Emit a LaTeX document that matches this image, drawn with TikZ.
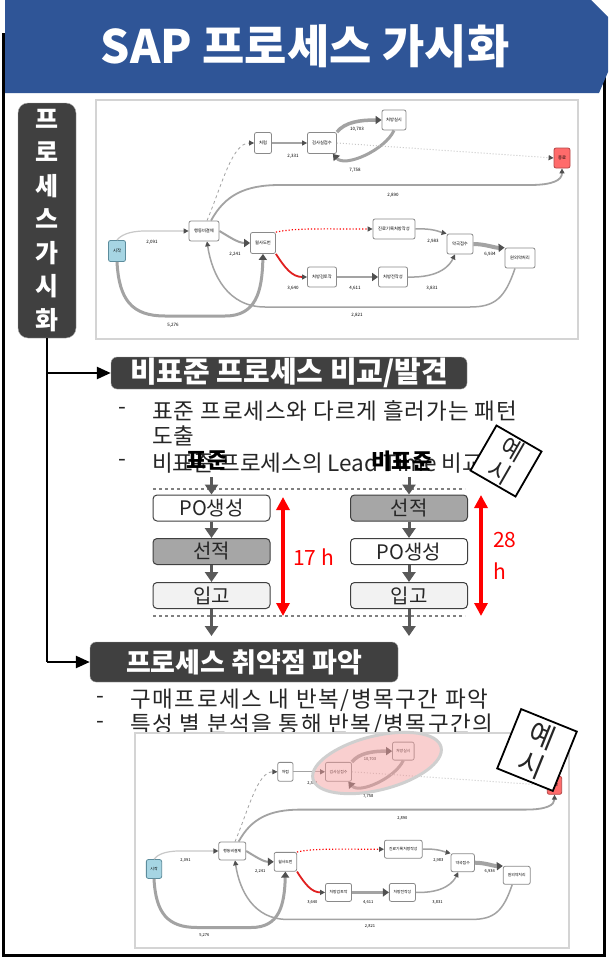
\documentclass[tikz,border=0pt]{standalone}
\usepackage{fontspec}
\setmainfont{Noto Sans CJK KR}
\usetikzlibrary{arrows.meta,shapes.geometric}
\definecolor{banner}{HTML}{2F5597}
\definecolor{darkbox}{HTML}{404040}
\definecolor{txt}{HTML}{262626}
\definecolor{framegray}{HTML}{D4D4D4}
\definecolor{edgegray}{HTML}{A3A3A3}
\definecolor{lightedge}{HTML}{C8C8C8}
\definecolor{tipgray}{HTML}{505050}
\definecolor{nodeedge}{HTML}{8A8A8A}
\definecolor{startblue}{HTML}{A6D5E3}
\definecolor{startedge}{HTML}{5C8C9C}
\definecolor{endred}{HTML}{FF6B6B}
\definecolor{endedge}{HTML}{B34747}
\definecolor{boxgray}{HTML}{A6A6A6}
\definecolor{boxlight}{HTML}{F2F2F2}
\definecolor{arrgray}{HTML}{595959}
\definecolor{hlpink}{HTML}{F4A0A0}
\definecolor{hlborder}{HTML}{CFCFCF}
\definecolor{redline}{HTML}{E02020}
\newcommand\fsz[1]{\fontsize{#1}{#1}\selectfont}

\newcommand\procmap[1]{%
 \draw[mframe] (96,100) rectangle (578,339);
 \node[mnode,fill=startblue,draw=startedge,minimum width=17pt,minimum height=21pt] (#1S) at (117,251) {시작};
 \node[mnode,minimum width=30pt,minimum height=20pt] (#1A) at (204,231) {행동비결제};
 \node[mnode,minimum width=25pt,minimum height=21pt] (#1B) at (263,243) {월사도번};
 \node[mnode,minimum width=17pt,minimum height=21pt] (#1C) at (263,143) {처럼};
 \node[mnode,minimum width=29pt,minimum height=21pt] (#1D) at (322,143) {검사실접수};
 \node[mnode,minimum width=24pt,minimum height=20pt] (#1E) at (394,120) {처방실시};
 \node[mnode,fill=endred,draw=endedge,minimum width=16pt,minimum height=20pt] (#1T) at (562,158) {종료};
 \node[mnode,minimum width=42pt,minimum height=20pt] (#1F) at (394,229) {진료기록처방작성};
 \node[mnode,minimum width=26pt,minimum height=20pt] (#1G) at (460,244) {약국접수};
 \node[mnode,minimum width=30pt,minimum height=20pt] (#1H) at (520,258) {원외약처리};
 \node[mnode,minimum width=29pt,minimum height=20pt] (#1I) at (322,277) {처방검토작};
 \node[mnode,minimum width=29pt,minimum height=20pt] (#1J) at (393,277) {처방전작성};
 \draw[medge,draw=lightedge,line width=1.2pt] (#1S.north) .. controls (120,236) and (128,231) .. (145,231) -- (#1A.west);
 \draw[medgeB,line width=3pt] (#1S.south) .. controls (119,300) and (132,316) .. (165,316) -- (225,316) .. controls (256,316) and (262,292) .. (#1B.south);
 \draw[medgeB,line width=2pt] (#1A.east) .. controls (228,236) and (238,243) .. (#1B.west);
 \draw[medge,dashed,line width=0.8pt] ([xshift=3pt]#1A.north) .. controls (222,185) and (232,143) .. (#1C.west);
 \draw[medge,line width=1.8pt] ([xshift=7pt]#1A.north) .. controls (225,195) and (245,185) .. (280,185) -- (530,185) .. controls (553,185) and (562,180) .. (#1T.south);
 \draw[medge,line width=1.2pt] (#1C.east) -- (#1D.west);
 \draw[medgeB,line width=3.5pt] (#1D.north east) .. controls (345,122) and (360,120) .. (#1E.west);
 \draw[medgeB,line width=3pt] (#1E.south) .. controls (385,150) and (345,168) .. ([xshift=-4pt]#1D.south east);
 \draw[medge,dotted,draw=lightedge,line width=1pt] (#1D.east) -- (#1T.west);
 \draw[medge,dotted,draw=red,line width=1.2pt] (#1B.north east) .. controls (295,228) and (320,229) .. (#1F.west);
 \draw[medge,draw=redline,line width=1.8pt] (#1B.south east) .. controls (285,268) and (292,277) .. (#1I.west);
 \draw[medgeB,line width=2.5pt] (#1I.east) -- (#1J.west);
 \draw[medge,line width=1.5pt] (#1J.east) .. controls (440,278) and (450,265) .. ([xshift=-5pt]#1G.south);
 \draw[medge,line width=1.5pt] (#1F.east) .. controls (432,228) and (440,232) .. (#1G.north west);
 \draw[medgeB,line width=4pt] (#1G.east) .. controls (485,244) and (495,248) .. (#1H.north west);
 \draw[medge,line width=1.5pt] ([xshift=-5pt]#1H.south) .. controls (505,298) and (495,307) .. (470,307) -- (265,307) .. controls (228,307) and (212,275) .. ([xshift=3pt]#1A.south);
 \node[mlabel] (#1l1) at (152,242) {2,091};
 \node[mlabel] (#1l2) at (173,325) {5,276};
 \node[mlabel] (#1l3) at (235,254) {2,241};
 \node[mlabel] (#1l4) at (393,195) {2,890};
 \node[mlabel] (#1l5) at (293,156) {2,331};
 \node[mlabel] (#1l6) at (357,129) {10,703};
 \node[mlabel] (#1l7) at (355,170) {7,758};
 \node[mlabel] (#1l8) at (293,288) {3,640};
 \node[mlabel] (#1l9) at (355,288) {4,611};
 \node[mlabel] (#1l10) at (432,288) {3,831};
 \node[mlabel] (#1l11) at (433,241) {2,983};
 \node[mlabel] (#1l12) at (490,254) {6,934};
 \node[mlabel] (#1l13) at (357,315) {2,821};
}

\begin{document}
\begin{tikzpicture}[x=1pt,y=-1pt,
 mframe/.style={draw=framegray,line width=1.5pt},
 mnode/.style={draw=nodeedge,fill=white,rounded corners=2pt,line width=0.8pt,inner sep=0pt,font=\fsz{4.3},text=black},
 medge/.style={draw=edgegray,-{Triangle[width=5pt,length=5pt,color=tipgray]}},
 medgeB/.style={draw=edgegray,-{Triangle[width=8pt,length=6pt,color=tipgray]}},
 mlabel/.style={font=\fsz{4.5},text=black,inner sep=0pt},
 darkhead/.style={fill=darkbox,draw=gray!70,rounded corners=6pt,text=white,inner sep=0pt},
 bullettext/.style={anchor=west,font=\fsz{22.5}\addfontfeature{LetterSpace=4},text=txt,inner sep=0pt},
 bullettextC/.style={anchor=west,font=\fsz{22.5},text=txt,inner sep=0pt},
 bullettextB/.style={anchor=west,font=\fsz{22.5}\addfontfeature{LetterSpace=7},text=txt,inner sep=0pt},
 lbox/.style={draw=darkbox,line width=1pt,rounded corners=4pt,minimum width=117pt,minimum height=26pt,font=\fsz{20},text=txt,inner sep=0pt},
 garrow/.style={draw=arrgray,line width=3pt,-{Triangle[width=13pt,length=10pt]}},
 redarrow/.style={draw=red,line width=4pt,{Triangle[width=13pt,length=13pt]}-{Triangle[width=13pt,length=13pt]}},
 stamp/.style={draw=black,line width=1.8pt,fill=white,inner sep=0pt,align=center,text=txt},
 connector/.style={draw=black,line width=2.5pt},
 blackarrow/.style={draw=black,line width=2.5pt,-{Triangle[width=12pt,length=14pt]}}]
\useasboundingbox (0,0) rectangle (608,958);
\fill[white] (0,0) rectangle (608,958);
% outer frame
\draw[line width=3pt] (3.5,35) rectangle (604.5,955.5);
% banner
\fill[banner] (5,0) -- (591,0) -- (608,17) -- (608,72) -- (599,93) -- (5,93) -- cycle;
\node[font=\bfseries\fsz{46},text=white] (title) at (305,46) {SAP 프로세스 가시화};
% vertical label
\node[darkhead,rounded corners=10pt,minimum width=58pt,minimum height=235pt,align=center,font=\bfseries\fontsize{25}{33.5}\selectfont] (vlabel) at (47,220.5) {프\\로\\세\\스\\가\\시\\화};
% map 1
\procmap{m}
% section headers
\node[darkhead,minimum width=356pt,minimum height=32pt,font=\bfseries\fsz{29}] (box1) at (289,373) {비표준 프로세스 비교/발견};
\node[darkhead,minimum width=308pt,minimum height=40pt,font=\bfseries\fsz{27}] (box2) at (244,662) {프로세스 취약점 파악};
\coordinate (j1) at (47,373);
\coordinate (j2) at (47,662);
\draw[connector] (vlabel.south) -- (j2);
\draw[blackarrow] (j1) -- (box1.west);
\draw[blackarrow] (j2) -- (box2.west);
% bullets section 1
\node[bullettext] (d1) at (118,411) {-};
\node[bullettext] (t1) at (152,411) {표준 프로세스와 다르게 흘러가는 패턴};
\node[bullettext] (t2) at (152,436) {도출};
\node[bullettext] (d3) at (118,463) {-};
\node[bullettextC] (t3) at (152,463) {비표준 프로세스의 Lead Time 비교};
\node[font=\bfseries\fsz{22},text=black,inner sep=0pt] (std) at (207,461) {표준};
\node[font=\bfseries\fsz{22},text=black,inner sep=0pt] (nstd) at (402,461) {비표준};
% lead time comparison
\coordinate (dl1) at (153,489); \coordinate (dr1) at (465,489);
\coordinate (dl2) at (153,616); \coordinate (dr2) at (465,616);
\draw[dashed,draw=gray,line width=2pt] (dl1) -- (dr1);
\draw[dashed,draw=gray,line width=2pt] (dl2) -- (dr2);
\node[lbox,fill=white] (L1) at (211.5,508) {PO생성};
\node[lbox,fill=boxgray] (L2) at (211.5,551.5) {선적};
\node[lbox,fill=boxlight] (L3) at (211.5,595.5) {입고};
\node[lbox,fill=boxgray] (R1) at (409,508) {선적};
\node[lbox,fill=white] (R2) at (409,551.5) {PO생성};
\node[lbox,fill=boxlight] (R3) at (409,595.5) {입고};
\coordinate (L0) at (211.5,477); \coordinate (Lx) at (211.5,636);
\coordinate (R0) at (409,477); \coordinate (Rx) at (409,636);
\draw[garrow] (L0) -- (L1.north);
\draw[garrow] (L1.south) -- (L2.north);
\draw[garrow] (L2.south) -- (L3.north);
\draw[garrow] (L3.south) -- (Lx);
\draw[garrow] (R0) -- (R1.north);
\draw[garrow] (R1.south) -- (R2.north);
\draw[garrow] (R2.south) -- (R3.north);
\draw[garrow] (R3.south) -- (Rx);
\coordinate (ra1) at (283,497); \coordinate (ra2) at (283,616);
\coordinate (rb1) at (481,495); \coordinate (rb2) at (481,616);
\draw[redarrow] (ra1) -- (ra2);
\draw[redarrow] (rb1) -- (rb2);
\node[font=\fsz{21},text=red,inner sep=0pt,anchor=west] (h17) at (293,557) {17 h};
\node[font=\fontsize{21}{32}\selectfont,text=red,inner sep=0pt,align=left,anchor=west] (h28) at (493,556) {28\\h};
% stamp 1
\node[stamp,rotate=-30,minimum width=52pt,minimum height=52pt,font=\fontsize{24}{27}\selectfont] (ex1) at (506,461) {예\\시};
% bullets section 2
\node[bullettextB] (d4) at (96,700) {-};
\node[bullettextB] (t4) at (130,700) {구매프로세스 내 반복/병목구간 파악};
\node[bullettextB] (d5) at (96,725) {-};
\node[bullettextB] (t5) at (130,725) {특성 별 분석을 통해 반복/병목구간의};
% map 2
\fill[white] (135,733) rectangle (572,947);
\begin{scope}[shift={(48.7,643.1)},scale=0.9,transform shape]
\procmap{n}
\end{scope}
\node[ellipse,draw=hlborder,line width=3pt,fill=hlpink,fill opacity=0.5,draw opacity=1,minimum width=132pt,minimum height=54pt,rotate=14] (hl) at (377,763) {};
% stamp 2
\node[stamp,rotate=-22,minimum width=60pt,minimum height=64pt,font=\fontsize{28}{31}\selectfont] (ex2) at (537,750) {예\\시};
\end{tikzpicture}
\end{document}
